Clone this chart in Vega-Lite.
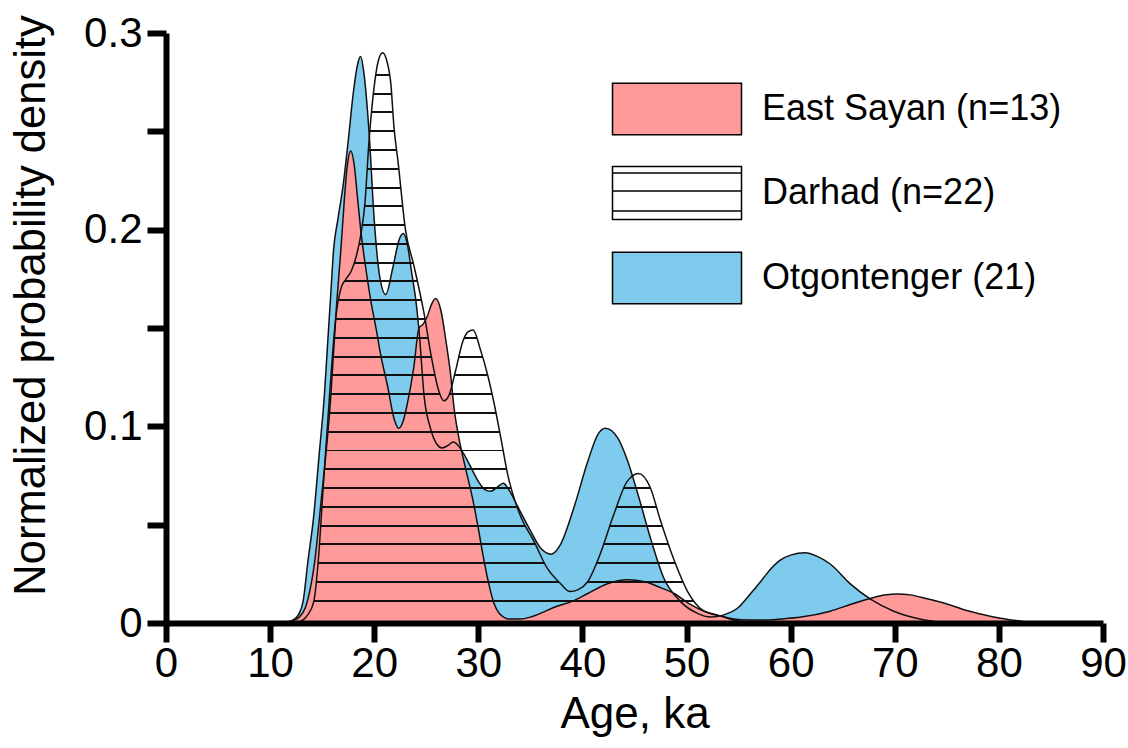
{
  "$schema": "https://vega.github.io/schema/vega-lite/v6.json",
  "width": 937,
  "height": 590,
  "autosize": {"type": "none"},
  "padding": {"left": 166, "top": 33, "right": 25, "bottom": 125},
  "background": "white",
  "config": {"view": {"stroke": null}, "font": "Liberation Sans"},
  "datasets": {
    "blue": [
      {"x":11.5,"y":0},{"x":12,"y":0.001},{"x":12.7,"y":0.004},{"x":13.2,"y":0.012},{"x":13.6,"y":0.03},{"x":14.2,"y":0.055},{"x":14.7,"y":0.085},{"x":15.2,"y":0.115},{"x":15.5,"y":0.14},{"x":15.8,"y":0.165},{"x":16.1,"y":0.19},{"x":16.5,"y":0.205},{"x":17,"y":0.222},{"x":17.5,"y":0.245},{"x":18,"y":0.27},{"x":18.4,"y":0.284},{"x":18.7,"y":0.288},{"x":19,"y":0.28},{"x":19.5,"y":0.25},{"x":20,"y":0.205},{"x":20.5,"y":0.177},{"x":21.1,"y":0.167},{"x":21.8,"y":0.181},{"x":22.4,"y":0.195},{"x":22.8,"y":0.198},{"x":23.2,"y":0.192},{"x":23.6,"y":0.178},{"x":24,"y":0.164},{"x":24.3,"y":0.149},{"x":24.8,"y":0.115},{"x":25.4,"y":0.099},{"x":26,"y":0.091},{"x":26.5,"y":0.089},{"x":27,"y":0.09},{"x":27.6,"y":0.092},{"x":28.1,"y":0.09},{"x":28.6,"y":0.086},{"x":29.3,"y":0.079},{"x":30,"y":0.072},{"x":30.6,"y":0.068},{"x":31.2,"y":0.067},{"x":31.8,"y":0.069},{"x":32.4,"y":0.071},{"x":32.9,"y":0.068},{"x":33.8,"y":0.059},{"x":35,"y":0.047},{"x":36,"y":0.038},{"x":37,"y":0.035},{"x":37.9,"y":0.04},{"x":39.2,"y":0.059},{"x":40.5,"y":0.082},{"x":41.5,"y":0.096},{"x":42.2,"y":0.099},{"x":43.4,"y":0.094},{"x":44.3,"y":0.083},{"x":45.3,"y":0.066},{"x":46.6,"y":0.042},{"x":47.8,"y":0.023},{"x":49.4,"y":0.011},{"x":51,"y":0.005},{"x":52.3,"y":0.003},{"x":53.5,"y":0.004},{"x":55,"y":0.008},{"x":56,"y":0.014},{"x":57.1,"y":0.021},{"x":58,"y":0.027},{"x":59,"y":0.032},{"x":60,"y":0.0345},{"x":61.4,"y":0.0357},{"x":62.5,"y":0.034},{"x":63.8,"y":0.03},{"x":65.7,"y":0.02},{"x":67.7,"y":0.012},{"x":69.9,"y":0.006},{"x":72.4,"y":0.002},{"x":75,"y":0}
    ],
    "pink": [
      {"x":11.2,"y":0},{"x":12,"y":0.001},{"x":12.8,"y":0.003},{"x":13.4,"y":0.008},{"x":13.8,"y":0.016},{"x":14.2,"y":0.028},{"x":14.9,"y":0.062},{"x":15.8,"y":0.113},{"x":16.4,"y":0.163},{"x":16.8,"y":0.19},{"x":17.1,"y":0.213},{"x":17.4,"y":0.232},{"x":17.75,"y":0.24},{"x":18.1,"y":0.232},{"x":18.4,"y":0.216},{"x":18.7,"y":0.2},{"x":19.2,"y":0.18},{"x":19.7,"y":0.163},{"x":20.2,"y":0.149},{"x":20.6,"y":0.137},{"x":21.3,"y":0.12},{"x":21.9,"y":0.104},{"x":22.35,"y":0.099},{"x":22.8,"y":0.103},{"x":23.2,"y":0.112},{"x":23.8,"y":0.13},{"x":24.3,"y":0.15},{"x":24.7,"y":0.152},{"x":25.1,"y":0.156},{"x":25.5,"y":0.162},{"x":25.9,"y":0.165},{"x":26.4,"y":0.159},{"x":26.9,"y":0.143},{"x":27.3,"y":0.128},{"x":27.7,"y":0.108},{"x":28.1,"y":0.095},{"x":28.8,"y":0.078},{"x":29.5,"y":0.062},{"x":30,"y":0.048},{"x":30.5,"y":0.033},{"x":31,"y":0.02},{"x":31.5,"y":0.01},{"x":32,"y":0.005},{"x":33,"y":0.002},{"x":34,"y":0.002},{"x":35,"y":0.003},{"x":36,"y":0.005},{"x":37.3,"y":0.008},{"x":39,"y":0.011},{"x":40.5,"y":0.015},{"x":42.4,"y":0.02},{"x":44.3,"y":0.022},{"x":46,"y":0.021},{"x":47.5,"y":0.018},{"x":48.8,"y":0.015},{"x":50.2,"y":0.01},{"x":51.7,"y":0.006},{"x":53,"y":0.004},{"x":54.5,"y":0.002},{"x":56,"y":0.0015},{"x":57.5,"y":0.0015},{"x":59,"y":0.002},{"x":61,"y":0.003},{"x":63.8,"y":0.006},{"x":65.8,"y":0.0095},{"x":67.8,"y":0.0127},{"x":69,"y":0.0142},{"x":70.3,"y":0.0148},{"x":71.5,"y":0.0143},{"x":73,"y":0.0125},{"x":75,"y":0.0097},{"x":76.5,"y":0.007},{"x":78.2,"y":0.0046},{"x":79.5,"y":0.003},{"x":81,"y":0.0017},{"x":82.5,"y":0.0007},{"x":84,"y":0}
    ],
    "hatched": [
      {"x":12.3,"y":0},{"x":13,"y":0.001},{"x":13.6,"y":0.004},{"x":14.2,"y":0.011},{"x":14.6,"y":0.03},{"x":15.1,"y":0.069},{"x":15.7,"y":0.115},{"x":16.3,"y":0.155},{"x":16.8,"y":0.17},{"x":17.3,"y":0.175},{"x":17.8,"y":0.179},{"x":18.3,"y":0.187},{"x":18.7,"y":0.197},{"x":19.1,"y":0.213},{"x":19.5,"y":0.245},{"x":20,"y":0.273},{"x":20.4,"y":0.286},{"x":20.8,"y":0.29},{"x":21.2,"y":0.286},{"x":21.6,"y":0.274},{"x":21.9,"y":0.252},{"x":22.3,"y":0.234},{"x":23,"y":0.2},{"x":23.8,"y":0.182},{"x":24.8,"y":0.157},{"x":25.5,"y":0.135},{"x":26.2,"y":0.118},{"x":26.7,"y":0.113},{"x":27.2,"y":0.116},{"x":27.8,"y":0.128},{"x":28.5,"y":0.143},{"x":29,"y":0.148},{"x":29.5,"y":0.149},{"x":30.2,"y":0.139},{"x":30.9,"y":0.126},{"x":31.5,"y":0.112},{"x":32.2,"y":0.093},{"x":32.8,"y":0.076},{"x":34,"y":0.055},{"x":35.3,"y":0.042},{"x":36.6,"y":0.028},{"x":37.9,"y":0.02},{"x":38.8,"y":0.016},{"x":39.6,"y":0.017},{"x":40.5,"y":0.021},{"x":41.7,"y":0.035},{"x":43,"y":0.055},{"x":44.3,"y":0.072},{"x":45.4,"y":0.076},{"x":46.5,"y":0.069},{"x":47.5,"y":0.052},{"x":48.8,"y":0.032},{"x":50.1,"y":0.016},{"x":51.7,"y":0.006},{"x":53.3,"y":0.0035},{"x":55,"y":0.001},{"x":56.5,"y":0}
    ],
    "legend": [
      {"series":"East Sayan (n=13)","x":50,"y":0.1},
      {"series":"Darhad (n=22)","x":50,"y":0.1},
      {"series":"Otgontenger (21)","x":50,"y":0.1}
    ]
  },
  "encoding": {
    "x": {
      "field": "x", "type": "quantitative",
      "scale": {"domain": [0, 90], "nice": false, "zero": false},
      "axis": {
        "values": [0,10,20,30,40,50,60,70,80,90],
        "title": "Age, ka", "titleFont": "Liberation Sans", "titleFontSize": 44, "titleFontWeight": "normal", "titleColor": "black", "titlePadding": 8,
        "labelFont": "Liberation Sans", "labelFontSize": 42, "labelColor": "black", "labelPadding": 1, "labelFlush": false, "labelOverlap": false,
        "tickSize": 19, "tickWidth": 6, "tickColor": "black",
        "domainWidth": 6, "domainColor": "black", "grid": false, "zindex": 2
      }
    },
    "y": {
      "field": "y", "type": "quantitative",
      "scale": {"domain": [0, 0.3], "nice": false},
      "axis": {
        "values": [0,0.05,0.1,0.15,0.2,0.25,0.3],
        "labelExpr": "abs(datum.value*10 - round(datum.value*10)) < 0.001 ? format(datum.value, '~g') : ''",
        "title": "Normalized probability density", "titleFont": "Liberation Sans", "titleFontSize": 43.5, "titleFontWeight": "normal", "titleColor": "black", "titlePadding": 30, "titleY": 272,
        "labelFont": "Liberation Sans", "labelFontSize": 42, "labelColor": "black", "labelPadding": 5, "labelFlush": false, "labelOverlap": false,
        "tickSize": 19, "tickWidth": 6, "tickColor": "black",
        "domainWidth": 6, "domainColor": "black", "grid": false, "zindex": 2
      }
    }
  },
  "layer": [
    {"data": {"name": "blue"}, "mark": {"type": "area", "color": "#7FCBEE", "interpolate": "monotone"}},
    {"data": {"name": "pink"}, "mark": {"type": "area", "color": "#FF9A9A", "interpolate": "monotone"}},
    {"data": {"name": "hatched"}, "mark": {"type": "area", "interpolate": "monotone",
      "fill": {"gradient": "linear", "x1": 0, "y1": 0, "x2": 0, "y2": 1, "stops": [
        {"offset":0,"color":"rgba(0,0,0,0)"},
        {"offset":0.0372,"color":"rgba(0,0,0,0)"},{"offset":0.0372,"color":"#111111"},{"offset":0.0406,"color":"#111111"},{"offset":0.0406,"color":"rgba(0,0,0,0)"},
        {"offset":0.0702,"color":"rgba(0,0,0,0)"},{"offset":0.0702,"color":"#111111"},{"offset":0.0736,"color":"#111111"},{"offset":0.0736,"color":"rgba(0,0,0,0)"},
        {"offset":0.1031,"color":"rgba(0,0,0,0)"},{"offset":0.1031,"color":"#111111"},{"offset":0.1065,"color":"#111111"},{"offset":0.1065,"color":"rgba(0,0,0,0)"},
        {"offset":0.1360,"color":"rgba(0,0,0,0)"},{"offset":0.1360,"color":"#111111"},{"offset":0.1394,"color":"#111111"},{"offset":0.1394,"color":"rgba(0,0,0,0)"},
        {"offset":0.1689,"color":"rgba(0,0,0,0)"},{"offset":0.1689,"color":"#111111"},{"offset":0.1723,"color":"#111111"},{"offset":0.1723,"color":"rgba(0,0,0,0)"},
        {"offset":0.2019,"color":"rgba(0,0,0,0)"},{"offset":0.2019,"color":"#111111"},{"offset":0.2053,"color":"#111111"},{"offset":0.2053,"color":"rgba(0,0,0,0)"},
        {"offset":0.2348,"color":"rgba(0,0,0,0)"},{"offset":0.2348,"color":"#111111"},{"offset":0.2382,"color":"#111111"},{"offset":0.2382,"color":"rgba(0,0,0,0)"},
        {"offset":0.2677,"color":"rgba(0,0,0,0)"},{"offset":0.2677,"color":"#111111"},{"offset":0.2711,"color":"#111111"},{"offset":0.2711,"color":"rgba(0,0,0,0)"},
        {"offset":0.3006,"color":"rgba(0,0,0,0)"},{"offset":0.3006,"color":"#111111"},{"offset":0.3040,"color":"#111111"},{"offset":0.3040,"color":"rgba(0,0,0,0)"},
        {"offset":0.3336,"color":"rgba(0,0,0,0)"},{"offset":0.3336,"color":"#111111"},{"offset":0.3370,"color":"#111111"},{"offset":0.3370,"color":"rgba(0,0,0,0)"},
        {"offset":0.3665,"color":"rgba(0,0,0,0)"},{"offset":0.3665,"color":"#111111"},{"offset":0.3699,"color":"#111111"},{"offset":0.3699,"color":"rgba(0,0,0,0)"},
        {"offset":0.3994,"color":"rgba(0,0,0,0)"},{"offset":0.3994,"color":"#111111"},{"offset":0.4028,"color":"#111111"},{"offset":0.4028,"color":"rgba(0,0,0,0)"},
        {"offset":0.4324,"color":"rgba(0,0,0,0)"},{"offset":0.4324,"color":"#111111"},{"offset":0.4358,"color":"#111111"},{"offset":0.4358,"color":"rgba(0,0,0,0)"},
        {"offset":0.4653,"color":"rgba(0,0,0,0)"},{"offset":0.4653,"color":"#111111"},{"offset":0.4687,"color":"#111111"},{"offset":0.4687,"color":"rgba(0,0,0,0)"},
        {"offset":0.4982,"color":"rgba(0,0,0,0)"},{"offset":0.4982,"color":"#111111"},{"offset":0.5016,"color":"#111111"},{"offset":0.5016,"color":"rgba(0,0,0,0)"},
        {"offset":0.5311,"color":"rgba(0,0,0,0)"},{"offset":0.5311,"color":"#111111"},{"offset":0.5345,"color":"#111111"},{"offset":0.5345,"color":"rgba(0,0,0,0)"},
        {"offset":0.5641,"color":"rgba(0,0,0,0)"},{"offset":0.5641,"color":"#111111"},{"offset":0.5675,"color":"#111111"},{"offset":0.5675,"color":"rgba(0,0,0,0)"},
        {"offset":0.5970,"color":"rgba(0,0,0,0)"},{"offset":0.5970,"color":"#111111"},{"offset":0.6004,"color":"#111111"},{"offset":0.6004,"color":"rgba(0,0,0,0)"},
        {"offset":0.6299,"color":"rgba(0,0,0,0)"},{"offset":0.6299,"color":"#111111"},{"offset":0.6333,"color":"#111111"},{"offset":0.6333,"color":"rgba(0,0,0,0)"},
        {"offset":0.6629,"color":"rgba(0,0,0,0)"},{"offset":0.6629,"color":"#111111"},{"offset":0.6663,"color":"#111111"},{"offset":0.6663,"color":"rgba(0,0,0,0)"},
        {"offset":0.6958,"color":"rgba(0,0,0,0)"},{"offset":0.6958,"color":"#111111"},{"offset":0.6992,"color":"#111111"},{"offset":0.6992,"color":"rgba(0,0,0,0)"},
        {"offset":0.7287,"color":"rgba(0,0,0,0)"},{"offset":0.7287,"color":"#111111"},{"offset":0.7321,"color":"#111111"},{"offset":0.7321,"color":"rgba(0,0,0,0)"},
        {"offset":0.7616,"color":"rgba(0,0,0,0)"},{"offset":0.7616,"color":"#111111"},{"offset":0.7650,"color":"#111111"},{"offset":0.7650,"color":"rgba(0,0,0,0)"},
        {"offset":0.7945,"color":"rgba(0,0,0,0)"},{"offset":0.7945,"color":"#111111"},{"offset":0.7979,"color":"#111111"},{"offset":0.7979,"color":"rgba(0,0,0,0)"},
        {"offset":0.8275,"color":"rgba(0,0,0,0)"},{"offset":0.8275,"color":"#111111"},{"offset":0.8309,"color":"#111111"},{"offset":0.8309,"color":"rgba(0,0,0,0)"},
        {"offset":0.8604,"color":"rgba(0,0,0,0)"},{"offset":0.8604,"color":"#111111"},{"offset":0.8638,"color":"#111111"},{"offset":0.8638,"color":"rgba(0,0,0,0)"},
        {"offset":0.8933,"color":"rgba(0,0,0,0)"},{"offset":0.8933,"color":"#111111"},{"offset":0.8967,"color":"#111111"},{"offset":0.8967,"color":"rgba(0,0,0,0)"},
        {"offset":0.9263,"color":"rgba(0,0,0,0)"},{"offset":0.9263,"color":"#111111"},{"offset":0.9297,"color":"#111111"},{"offset":0.9297,"color":"rgba(0,0,0,0)"},
        {"offset":0.9592,"color":"rgba(0,0,0,0)"},{"offset":0.9592,"color":"#111111"},{"offset":0.9626,"color":"#111111"},{"offset":0.9626,"color":"rgba(0,0,0,0)"},
        {"offset":1,"color":"rgba(0,0,0,0)"}
      ]}}},
    {"data": {"name": "blue"}, "mark": {"type": "line", "color": "#111111", "strokeWidth": 1.5, "interpolate": "monotone"}},
    {"data": {"name": "pink"}, "mark": {"type": "line", "color": "#111111", "strokeWidth": 1.5, "interpolate": "monotone"}},
    {"data": {"name": "hatched"}, "mark": {"type": "line", "color": "#111111", "strokeWidth": 1.5, "interpolate": "monotone"}},
    {"data": {"name": "legend"}, "mark": {"type": "point", "filled": true, "opacity": 0},
      "encoding": {
        "color": {"field": "series", "type": "nominal",
          "scale": {"domain": ["East Sayan (n=13)", "Darhad (n=22)", "Otgontenger (21)"], "range": ["#FF9A9A", "#FFFFFF", "#7FCBEE"]},
          "legend": {"title": null, "orient": "none", "legendX": 478, "legendY": 43, "padding": 0,
            "symbolSize": 4160, "symbolStrokeColor": "black", "symbolStrokeWidth": 1.5, "symbolOpacity": 1,
            "labelFont": "Liberation Sans", "labelFontSize": 36, "labelColor": "black", "labelOffset": 52, "rowPadding": 22, "labelLimit": 600,
            "encode": {"symbols": {"update": {"opacity": {"value": 1}, "stroke": {"value": "black"}, "strokeWidth": {"value": 1.5}}}}}},
        "shape": {"field": "series", "type": "nominal",
          "scale": {"domain": ["East Sayan (n=13)", "Darhad (n=22)", "Otgontenger (21)"], "range": ["M-2,-0.8H2V0.8H-2Z", "M-2,-0.82H2V0.82H-2Z M-2,-0.62H2 M-2,-0.06H2 M-2,0.56H2", "M-2,-0.8H2V0.8H-2Z"]},
          "legend": {"title": null, "orient": "none", "legendX": 478, "legendY": 43, "padding": 0,
            "symbolSize": 4160, "symbolStrokeColor": "black", "symbolStrokeWidth": 1.5, "symbolOpacity": 1,
            "labelFont": "Liberation Sans", "labelFontSize": 36, "labelColor": "black", "labelOffset": 52, "rowPadding": 22, "labelLimit": 600,
            "encode": {"symbols": {"update": {"opacity": {"value": 1}, "stroke": {"value": "black"}, "strokeWidth": {"value": 1.5}}}}}}
      }}
  ]
}
